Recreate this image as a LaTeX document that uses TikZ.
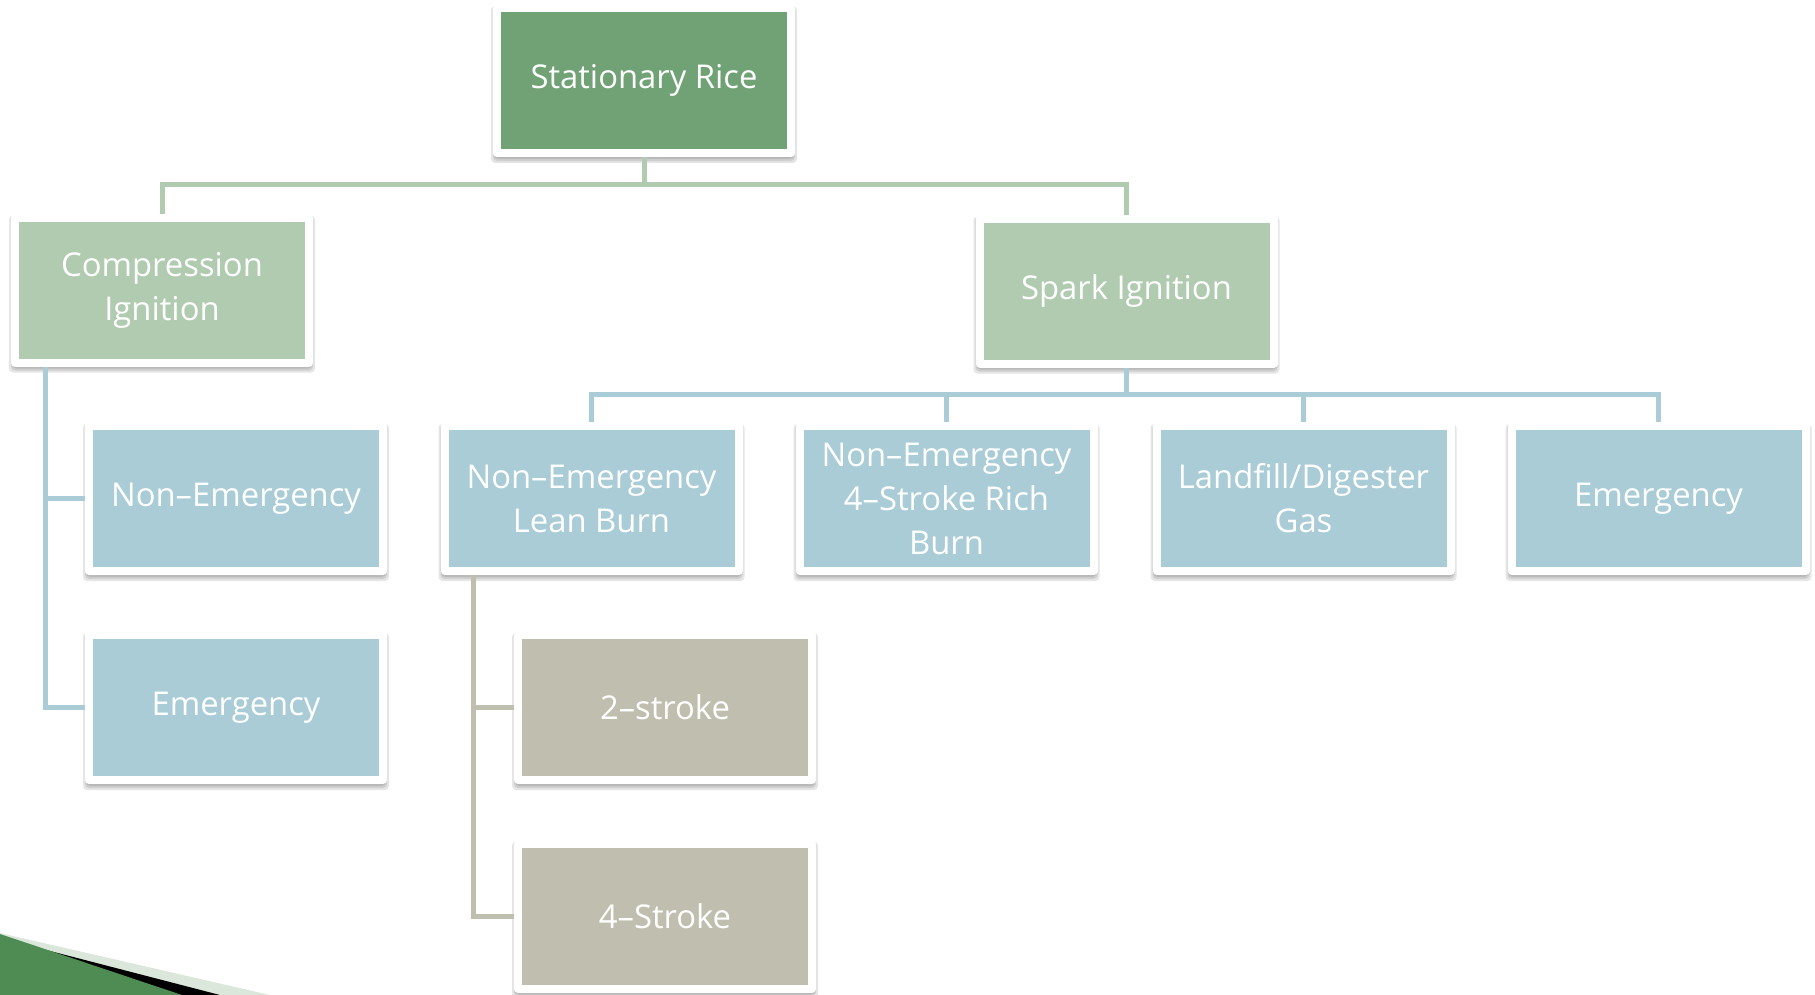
\documentclass[tikz,border=0pt]{standalone}
\usepackage{fontspec}
\setmainfont{Open Sans}
\usetikzlibrary{backgrounds,calc}
\definecolor{topgreen}{HTML}{70A276}
\definecolor{lgreen}{HTML}{B0CBAF}
\definecolor{lblue}{HTML}{A9CCD6}
\definecolor{lgray}{HTML}{C0BFAF}
\definecolor{swgreen}{HTML}{4E8C54}
\definecolor{swlight}{HTML}{DCE7DC}
\tikzset{
  box/.style={draw=white, line width=4pt, line join=round, minimum width=147pt,
    minimum height=72.5pt, inner sep=0pt, outer sep=0pt, align=center,
    text=white, font=\fontsize{16.4}{22}\selectfont},
  topbox/.style={box, fill=topgreen},
  gbox/.style={box, fill=lgreen},
  bbox/.style={box, fill=lblue},
  ybox/.style={box, fill=lgray},
  gline/.style={draw=lgreen, line width=2.5pt},
  bline/.style={draw=lblue, line width=2.5pt},
  yline/.style={draw=lgray, line width=2.5pt},
  shad/.style={fill=black, opacity=0.1, rounded corners=2pt},
}
\begin{document}
\begin{tikzpicture}[x=0.5pt, y=-0.5pt]
\useasboundingbox (0,0) rectangle (1815,995);
% swoosh
\fill[swlight] (0,933) -- (270,995) -- (0,995) -- cycle;
\fill[black] (0,938) -- (220,995) -- (0,995) -- cycle;
\fill[swgreen] (0,934) -- (182,995) -- (0,995) -- cycle;

\node[topbox] (top) at (644,80.5) {Stationary Rice};
\node[gbox] (ci) at (162,290) {Compression\\Ignition};
\node[gbox] (si) at (1126.5,291) {Spark Ignition};
\node[bbox] (cine) at (236,498.5) {Non–Emergency};
\node[bbox] (lb) at (591.5,498.5) {Non–Emergency\\Lean Burn};
\node[bbox] (rb) at (946.5,498.5) {Non–Emergency\\4–Stroke Rich\\Burn};
\node[bbox] (lf) at (1303.5,498.5) {Landfill/Digester\\Gas};
\node[bbox] (em) at (1658.5,498.5) {Emergency};
\node[bbox] (ciem) at (236,707.5) {Emergency};
\node[ybox] (s2) at (665,707.5) {2–stroke};
\node[ybox] (s4) at (665,916) {4–Stroke};

\coordinate (j1) at (644,184);
\coordinate (j2) at (1126.5,394);
\coordinate (c1) at (45,362);
\coordinate (c2) at (473,571);

\begin{pgfonlayer}{background}
  \foreach \n in {top,ci,si,cine,lb,rb,lf,em,ciem,s2,s4}{
    \fill[shad] ($(\n.south west)+(-3pt,-5pt)$) rectangle ($(\n.north east)+(3pt,1pt)$);
    \fill[shad] ($(\n.south west)+(-2pt,-4pt)$) rectangle ($(\n.north east)+(2pt,1pt)$);
    \fill[shad] ($(\n.south west)+(-1.5pt,-3pt)$) rectangle ($(\n.north east)+(1.5pt,1pt)$);
  }
  \draw[gline] (top) -- (j1);
  \draw[gline] (ci.north) |- (j1) -| (si.north);
  \draw[bline] (si) -- (j2);
  \draw[bline] (lb.north) |- (j2) -| (em.north);
  \draw[bline] (rb.north) -- (rb.north |- j2);
  \draw[bline] (lf.north) -- (lf.north |- j2);
  \draw[bline] (c1) |- (cine.west);
  \draw[bline] (c1) |- (ciem.west);
  \draw[yline] (c2) |- (s2.west);
  \draw[yline] (c2) |- (s4.west);
\end{pgfonlayer}
\end{tikzpicture}
\end{document}
